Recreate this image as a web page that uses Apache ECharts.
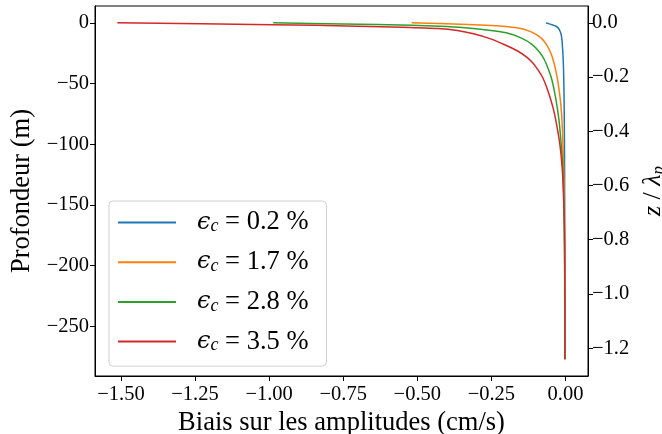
<!DOCTYPE html>
<html>
<head>
<meta charset="utf-8">
<script src="https://cdn.jsdelivr.net/npm/echarts@6/dist/echarts.min.js"></script>
<style>html,body{margin:0;padding:0;background:#fff;}#c{width:662px;height:434px;}</style>
</head>
<body>
<div id="c"></div>
<script>
// ---- data ----
const epsValues = ['0.2', '1.7', '2.8', '3.5'];
const colors = ['#1f77b4', '#ff7f0e', '#2ca02c', '#d62728'];

const biasBlue   = [-0.066, -0.058, -0.046, -0.032, -0.025, -0.019, -0.0145, -0.012, -0.010, -0.0085, -0.0065, -0.0048, -0.004, -0.003, -0.002];
const depthBlue  = [0, -0.6, -1.5, -2.8, -4.1, -6.5, -9.6, -13.8, -20, -26, -38.5, -60, -80, -120, -277.2];

const biasOrange  = [-0.519, -0.424, -0.33, -0.25, -0.195, -0.154, -0.120, -0.098, -0.080, -0.064, -0.051, -0.042, -0.032, -0.025, -0.018, -0.0135, -0.010, -0.008, -0.005, -0.003, -0.002];
const depthOrange = [0, -0.6, -1.3, -2.2, -3.2, -4.5, -7, -9.6, -13, -17.9, -24, -30.2, -40, -49.4, -62, -74, -90, -104, -130, -170, -277.2];

const biasGreen  = [-0.986, -0.75, -0.52, -0.424, -0.34, -0.28, -0.20, -0.150, -0.112, -0.088, -0.072, -0.058, -0.048, -0.041, -0.033, -0.027, -0.022, -0.018, -0.013, -0.008, -0.005, -0.003, -0.002];
const depthGreen = [0, -0.9, -2.0, -2.8, -4, -5.5, -8.2, -12.4, -17.9, -24, -30, -38, -45, -52, -62, -71, -80, -90, -104, -125, -150, -190, -277.2];

const biasRed  = [-1.512, -0.99, -0.70, -0.55, -0.43, -0.365, -0.31, -0.255, -0.205, -0.163, -0.132, -0.110, -0.092, -0.077, -0.062, -0.050, -0.038, -0.029, -0.022, -0.017, -0.011, -0.007, -0.004, -0.0025, -0.002];
const depthRed = [0, -1.5, -2.7, -3.6, -4.7, -6.3, -9, -13.0, -18, -23, -28, -33, -39, -45, -54, -63, -74, -85, -95, -104, -120, -140, -165, -200, -277.2];

const xTicks = [-1.5, -1.25, -1.0, -0.75, -0.5, -0.25, 0];
const yTicks = [0, -50, -100, -150, -200, -250];
const zTicks = [0, -0.2, -0.4, -0.6, -0.8, -1.0, -1.2];
const lambdaP = 223.4; // m, depth scale for right axis

const xMin = -1.5875, xMax = 0.076;
const yMin = -291, yMax = 13.9;

function fmt(v, d) {
  const s = Math.abs(v).toFixed(d);
  return (v < -1e-9 ? '\u2212' : '') + s;
}
function pairs(xs, ys) { return xs.map((x, i) => [x, ys[i]]); }

const seriesData = [
  pairs(biasBlue, depthBlue),
  pairs(biasOrange, depthOrange),
  pairs(biasGreen, depthGreen),
  pairs(biasRed, depthRed)
];

const FONT = 'Liberation Serif';
const chart = echarts.init(document.getElementById('c'), null, {renderer: 'canvas'});

const option = {
  animation: false,
  backgroundColor: '#fff',
  grid: {left: 95, right: 74, top: 6, bottom: 58, show: true, borderColor: '#000', borderWidth: 1,
    backgroundColor: 'transparent', containLabel: false, outerBoundsMode: 'none'},
  xAxis: {
    type: 'value', min: xMin, max: xMax,
    name: 'Biais sur les amplitudes (cm/s)', nameLocation: 'middle', nameGap: 34,
    nameTextStyle: {fontFamily: FONT, fontSize: 26.5, color: '#000'},
    axisLine: {show: true, onZero: false, lineStyle: {color: '#000', width: 1}},
    axisTick: {show: true, length: 5, lineStyle: {color: '#000'}, customValues: xTicks},
    axisLabel: {fontFamily: FONT, fontSize: 20.5, color: '#000', margin: 8, customValues: xTicks,
      formatter: v => fmt(v, 2)},
    splitLine: {show: false}
  },
  yAxis: [
    {
      type: 'value', min: yMin, max: yMax, position: 'left',
      name: 'Profondeur (m)', nameLocation: 'middle', nameGap: 53,
      nameTextStyle: {fontFamily: FONT, fontSize: 26.5, color: '#000'},
      axisLine: {show: true, onZero: false, lineStyle: {color: '#000'}},
      axisTick: {show: true, length: 5, lineStyle: {color: '#000'}, customValues: yTicks},
      axisLabel: {fontFamily: FONT, fontSize: 20.5, color: '#000', margin: 6, customValues: yTicks,
        formatter: v => fmt(v, 0)},
      splitLine: {show: false}
    },
    {
      type: 'value', min: yMin / lambdaP, max: yMax / lambdaP, position: 'right',
      name: '{i|z} / {i|λ}{s|p}', nameLocation: 'middle', nameGap: 50, nameRotate: 90,
      nameTextStyle: {fontFamily: FONT, fontSize: 26, color: '#000',
        rich: {
          i: {fontFamily: FONT, fontStyle: 'italic', fontSize: 26, color: '#000'},
          s: {fontFamily: FONT, fontStyle: 'italic', fontSize: 17, color: '#000', verticalAlign: 'bottom', padding: [10, 0, 0, 0]}
        }},
      axisLine: {show: true, onZero: false, lineStyle: {color: '#000'}},
      axisTick: {show: true, length: 5, lineStyle: {color: '#000'}, customValues: zTicks},
      axisLabel: {fontFamily: FONT, fontSize: 20.5, color: '#000', margin: 4, customValues: zTicks,
        formatter: v => fmt(v, 1)},
      splitLine: {show: false}
    }
  ],
  legend: {
    orient: 'vertical', left: 109, top: 201,
    backgroundColor: '#fff', borderColor: '#d0d0d0', borderWidth: 1, borderRadius: 4,
    padding: [8, 18, 11, 9],
    itemWidth: 58, itemHeight: 2, itemGap: 12.7,
    icon: 'rect',
    textStyle: {fontFamily: FONT, fontSize: 26, color: '#000', lineHeight: 26, padding: [0, 0, 0, 16],
      rich: {
        e: {fontFamily: 'DejaVu Serif', fontStyle: 'italic', fontSize: 24, color: '#000', lineHeight: 26},
        c: {fontFamily: FONT, fontStyle: 'italic', fontSize: 18, color: '#000', lineHeight: 26, verticalAlign: 'bottom', padding: [8, 0, 0, 0]},
        t: {fontFamily: FONT, fontSize: 26.5, color: '#000', lineHeight: 26}
      }},
    formatter: name => '{e|ϵ}{c|c}{t| = ' + name.replace('eps', '') + ' %}',
    data: epsValues.map(v => 'eps' + v)
  },
  series: seriesData.map((d, i) => ({
    name: 'eps' + epsValues[i],
    type: 'line', yAxisIndex: 0, xAxisIndex: 0,
    data: d, showSymbol: false, symbol: 'none',
    smooth: 0.25,
    lineStyle: {color: colors[i], width: 1.5},
    itemStyle: {color: colors[i]},
    z: 2 + i
  }))
};
chart.setOption(option);
</script>
</body>
</html>
